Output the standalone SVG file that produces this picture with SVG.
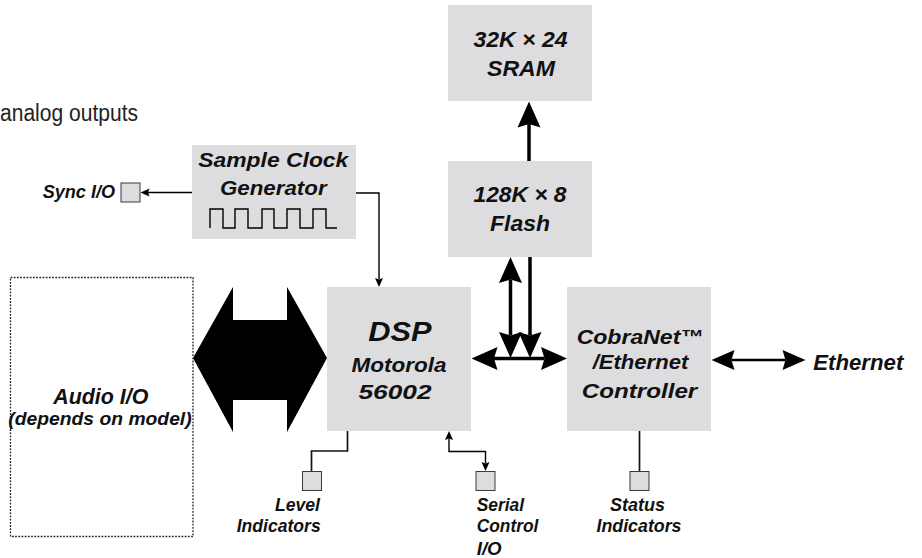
<svg xmlns="http://www.w3.org/2000/svg" width="922" height="558" viewBox="0 0 922 558">
<style>
.box{fill:#dddddf;stroke:none}
.ind{fill:#dddddf;stroke:#3a3a3a;stroke-width:1}
.t{font-family:"Liberation Sans",Arial,sans-serif;font-weight:bold;font-style:italic;fill:#111}
.c{text-anchor:middle}
.e{text-anchor:end}
.thick{fill:none;stroke:#000;stroke-width:3.5}
.eth{fill:none;stroke:#000;stroke-width:2.6}
.thin{fill:none;stroke:#000;stroke-width:1.4}
.wire{fill:none;stroke:#111;stroke-width:1.7}
</style>
<defs>
<marker id="big" markerUnits="userSpaceOnUse" markerWidth="30" markerHeight="30" refX="3.5" refY="11.5" orient="auto-start-reverse" overflow="visible"><path d="M0,0 L26,11.5 L0,23 L3.5,11.5 Z" fill="#000"/></marker>
<marker id="med" markerUnits="userSpaceOnUse" markerWidth="26" markerHeight="26" refX="3" refY="10" orient="auto-start-reverse" overflow="visible"><path d="M0,0 L23,10 L0,20 L3,10 Z" fill="#000"/></marker>
<marker id="sm" markerUnits="userSpaceOnUse" markerWidth="12" markerHeight="12" refX="1.5" refY="4" orient="auto-start-reverse" overflow="visible"><path d="M0,0 L9,4 L0,8 L1.5,4 Z" fill="#000"/></marker>
</defs>
<rect width="922" height="558" fill="#fff"/>

<text x="0" y="121" font-family="Liberation Sans, Arial, sans-serif" font-size="23" fill="#222" textLength="138" lengthAdjust="spacingAndGlyphs">analog outputs</text>

<g id="connectors">
<path class="thick" d="M529,161 V124" marker-end="url(#big)"/>
<path class="thick" d="M510.5,279.5 V335.5" marker-start="url(#big)" marker-end="url(#big)"/>
<path class="thick" d="M530,257 V335.5" marker-end="url(#big)"/>
<path class="thick" d="M494,358.5 H544.5" marker-start="url(#big)" marker-end="url(#big)"/>
<path class="eth" d="M731.5,360 H785.5" marker-start="url(#med)" marker-end="url(#med)"/>
<path class="thin" d="M192,192.5 H148" marker-end="url(#sm)"/>
<path class="thin" d="M356,193 H379 V279.5" marker-end="url(#sm)"/>
<path class="wire" d="M347.5,431 V451 H311.5 V471.5"/>
<path class="thin" d="M449,438.5 V451.5 H485.5 V463.5" marker-start="url(#sm)" marker-end="url(#sm)"/>
<path class="wire" d="M639.5,431 V471.5"/>
<polygon id="audio-bus" points="193,358 233,287 233,320 287,320 287,287 327,358 287,432 287,400 233,400 233,432" fill="#000"/>
</g>

<g id="sram">
<rect class="box" x="448" y="5" width="144" height="96"/>
<text class="t c" x="520.5" y="46.5" font-size="21.5" textLength="94" lengthAdjust="spacingAndGlyphs">32K × 24</text>
<text class="t c" x="521" y="76" font-size="21.5" textLength="68" lengthAdjust="spacingAndGlyphs">SRAM</text>
</g>

<g id="flash">
<rect class="box" x="448" y="161" width="144" height="96"/>
<text class="t c" x="520" y="202" font-size="21.5" textLength="93" lengthAdjust="spacingAndGlyphs">128K × 8</text>
<text class="t c" x="520" y="230.5" font-size="21.5" textLength="60" lengthAdjust="spacingAndGlyphs">Flash</text>
</g>

<g id="clock">
<rect class="box" x="192" y="145" width="164" height="94"/>
<text class="t c" x="273.3" y="166.7" font-size="20" textLength="150" lengthAdjust="spacingAndGlyphs">Sample Clock</text>
<text class="t c" x="273.3" y="195" font-size="20" textLength="106.7" lengthAdjust="spacingAndGlyphs">Generator</text>
<path class="thin" d="M210,228 V209 H223 V228 H235 V209 H248 V228 H262 V209 H274 V228 H287 V209 H300 V228 H313 V209 H326 V228 H337"/>
</g>

<g id="sync">
<rect class="ind" x="121" y="183" width="19" height="19"/>
<text class="t" x="42.7" y="197.5" font-size="17.5" textLength="72.3" lengthAdjust="spacingAndGlyphs">Sync I/O</text>
</g>

<g id="dsp">
<rect class="box" x="327" y="287" width="144" height="144"/>
<text class="t c" x="400" y="340.7" font-size="27" textLength="63.3" lengthAdjust="spacingAndGlyphs">DSP</text>
<text class="t c" x="399" y="371.7" font-size="20.5" textLength="95" lengthAdjust="spacingAndGlyphs">Motorola</text>
<text class="t c" x="395" y="399" font-size="20.5" textLength="73" lengthAdjust="spacingAndGlyphs">56002</text>
</g>

<g id="cobranet">
<rect class="box" x="567" y="287" width="144" height="144"/>
<text class="t c" x="640" y="344" font-size="20.5" textLength="126.7" lengthAdjust="spacingAndGlyphs">CobraNet™</text>
<text class="t c" x="640.5" y="369.3" font-size="20.5" textLength="95.7" lengthAdjust="spacingAndGlyphs">/Ethernet</text>
<text class="t c" x="639.5" y="398.3" font-size="20.5" textLength="115.6" lengthAdjust="spacingAndGlyphs">Controller</text>
</g>

<g id="ethernet">
<text class="t" x="813.3" y="370" font-size="21.5" textLength="90" lengthAdjust="spacingAndGlyphs">Ethernet</text>
</g>

<g id="audio">
<rect x="10.5" y="277.5" width="182.5" height="259" fill="none" stroke="#222" stroke-width="1.3" stroke-dasharray="1.8 1.4"/>
<text class="t c" x="100.8" y="404" font-size="21.5" textLength="95" lengthAdjust="spacingAndGlyphs">Audio I/O</text>
<text class="t c" x="100" y="424.5" font-size="17.5" textLength="183.3" lengthAdjust="spacingAndGlyphs">(depends on model)</text>
</g>

<g id="level">
<rect class="ind" x="302.5" y="471.5" width="19" height="19"/>
<text class="t e" x="320" y="511" font-size="18" textLength="45" lengthAdjust="spacingAndGlyphs">Level</text>
<text class="t e" x="320.7" y="531.7" font-size="18" textLength="84" lengthAdjust="spacingAndGlyphs">Indicators</text>
</g>

<g id="serial">
<rect class="ind" x="476" y="471.5" width="19" height="19"/>
<text class="t" x="476.7" y="511" font-size="18" textLength="47.3" lengthAdjust="spacingAndGlyphs">Serial</text>
<text class="t" x="476.7" y="531.7" font-size="18" textLength="61.7" lengthAdjust="spacingAndGlyphs">Control</text>
<text class="t" x="476.7" y="555" font-size="18" textLength="25" lengthAdjust="spacingAndGlyphs">I/O</text>
</g>

<g id="status">
<rect class="ind" x="630" y="471.5" width="19" height="19"/>
<text class="t c" x="637.5" y="511" font-size="18" textLength="55" lengthAdjust="spacingAndGlyphs">Status</text>
<text class="t c" x="639" y="531.7" font-size="18" textLength="85" lengthAdjust="spacingAndGlyphs">Indicators</text>
</g>
</svg>
